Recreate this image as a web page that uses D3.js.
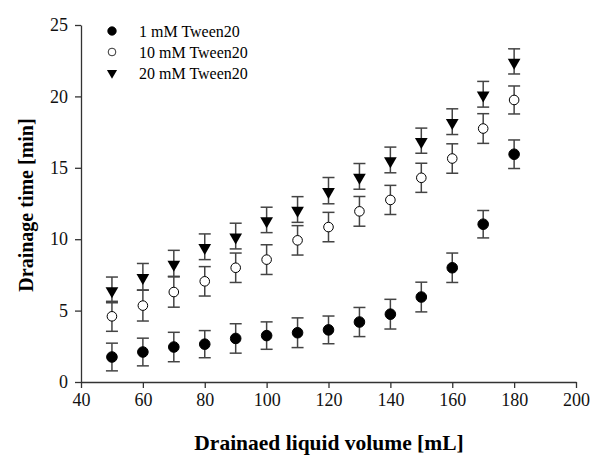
<!DOCTYPE html>
<html>
<head>
<meta charset="utf-8">
<script src="https://cdn.jsdelivr.net/npm/d3@7"></script>
<style>
  body{margin:0;background:#fff;}
  text{font-family:"Liberation Serif","Times New Roman",serif;}
</style>
</head>
<body>
<svg id="chart"></svg>
<script>
// volumes on x
var volumes=[50,60,70,80,90,100,110,120,130,140,150,160,170,180]
// series values (drainage time, min) and error half widths
var tween1=[1.75,2.1,2.45,2.65,3.05,3.25,3.45,3.65,4.2,4.75,5.95,8.0,11.05,15.95]
var tween1Err=[0.97,0.97,1.03,0.95,1.03,0.96,1.04,0.97,1.02,1.04,1.04,1.03,0.96,1.0]
var tween10=[4.6,5.35,6.3,7.05,8.0,8.57,9.92,10.85,11.95,12.75,14.3,15.65,17.75,19.75]
var tween10Err=[1.05,1.08,1.06,1.03,1.03,1.04,1.03,1.03,1.04,1.02,1.02,1.03,1.04,0.98]
var tween20=[6.45,7.37,8.31,9.47,10.22,11.35,12.08,13.4,14.4,15.55,16.9,18.23,20.15,22.45]
var tween20Err=[0.9,0.93,0.91,0.9,0.9,0.89,0.9,0.92,0.9,0.9,0.88,0.9,0.9,0.88]
var seriesNames=["1 mM Tween20","10 mM Tween20","20 mM Tween20"]
var xTicks=[40,60,80,100,120,140,160,180,200]
var yTicks=[0,5,10,15,20,25]

var screen={width:591,height:455}
var margins={left:81,right:15,top:25,bottom:73}
var graph={
  width:screen.width-margins.left-margins.right,
  height:screen.height-margins.top-margins.bottom
}

var svg=d3.select("#chart")
  .attr("width",screen.width)
  .attr("height",screen.height)

var xScale=d3.scaleLinear().domain([40,200]).range([0,graph.width])
var yScale=d3.scaleLinear().domain([0,25]).range([graph.height,0])

var target=svg.append("g")
  .attr("transform","translate("+margins.left+","+margins.top+")")

// axes
var xAxis=target.append("g")
  .attr("transform","translate(0,"+graph.height+")")
  .call(d3.axisBottom(xScale).tickValues(xTicks).tickSize(6).tickPadding(5).tickSizeOuter(0))
var yAxis=target.append("g")
  .call(d3.axisLeft(yScale).tickValues(yTicks).tickSize(6).tickPadding(7).tickSizeOuter(0))
xAxis.attr("font-family","'Liberation Serif',serif")
yAxis.attr("font-family","'Liberation Serif',serif")
target.selectAll(".domain, .tick line").attr("stroke","#333").attr("stroke-width",1.3)
target.selectAll(".tick text").attr("font-size",18).attr("fill","#111")

// axis titles
svg.append("text")
  .attr("x",329)
  .attr("y",450)
  .attr("text-anchor","middle")
  .attr("font-size",21.5).attr("font-weight","bold")
  .text("Drainaed liquid volume [mL]")
svg.append("text")
  .attr("transform","translate(33,205) rotate(-90)")
  .attr("text-anchor","middle")
  .attr("font-size",20).attr("font-weight","bold")
  .text("Drainage time [min]")

var series=[
  {name:seriesNames[0],vals:tween1,err:tween1Err,shape:"filled"},
  {name:seriesNames[1],vals:tween10,err:tween10Err,shape:"open"},
  {name:seriesNames[2],vals:tween20,err:tween20Err,shape:"tri"}
]

var tri=d3.symbol().type(d3.symbolTriangle).size(70)
var drawMarker=function(sel,shape){
  if(shape=="tri"){
    sel.append("path").attr("d",tri).attr("transform","rotate(180)").attr("fill","#000")
  } else {
    sel.append("circle").attr("r",shape=="open"?4.8:5.3)
      .attr("fill",shape=="open"?"#fff":"#000")
      .attr("stroke","#000").attr("stroke-width",1)
  }
}

// error bars first
series.forEach(function(s){
  var g=target.append("g")
  volumes.forEach(function(v,i){
    var x=xScale(v), y1=yScale(s.vals[i]+s.err[i]), y0=yScale(s.vals[i]-s.err[i])
    g.append("line").attr("x1",x).attr("x2",x).attr("y1",y1).attr("y2",y0)
      .attr("stroke","#444").attr("stroke-width",1.5)
    g.append("line").attr("x1",x-6).attr("x2",x+6).attr("y1",y1).attr("y2",y1)
      .attr("stroke","#444").attr("stroke-width",1.5)
    g.append("line").attr("x1",x-6).attr("x2",x+6).attr("y1",y0).attr("y2",y0)
      .attr("stroke","#444").attr("stroke-width",1.5)
  })
})
series.forEach(function(s){
  var pts=target.append("g").selectAll("g")
    .data(volumes)
    .enter()
    .append("g")
    .attr("transform",function(v,i){return "translate("+xScale(v)+","+(s.shape=="tri"?yScale(s.vals[i])+1:yScale(s.vals[i]))+")"})
  drawMarker(pts,s.shape)
})

// legend
var legend=svg.append("g").attr("transform","translate(112,31)")
series.forEach(function(s,i){
  var row=legend.append("g").attr("transform","translate(0,"+(i*21)+")")
  var m=row.append("g").attr("transform","scale(0.8)")
  drawMarker(m,s.shape)
  row.append("text").attr("x",27).attr("y",5.5).attr("font-size",16).text(s.name)
})
</script>
</body>
</html>
